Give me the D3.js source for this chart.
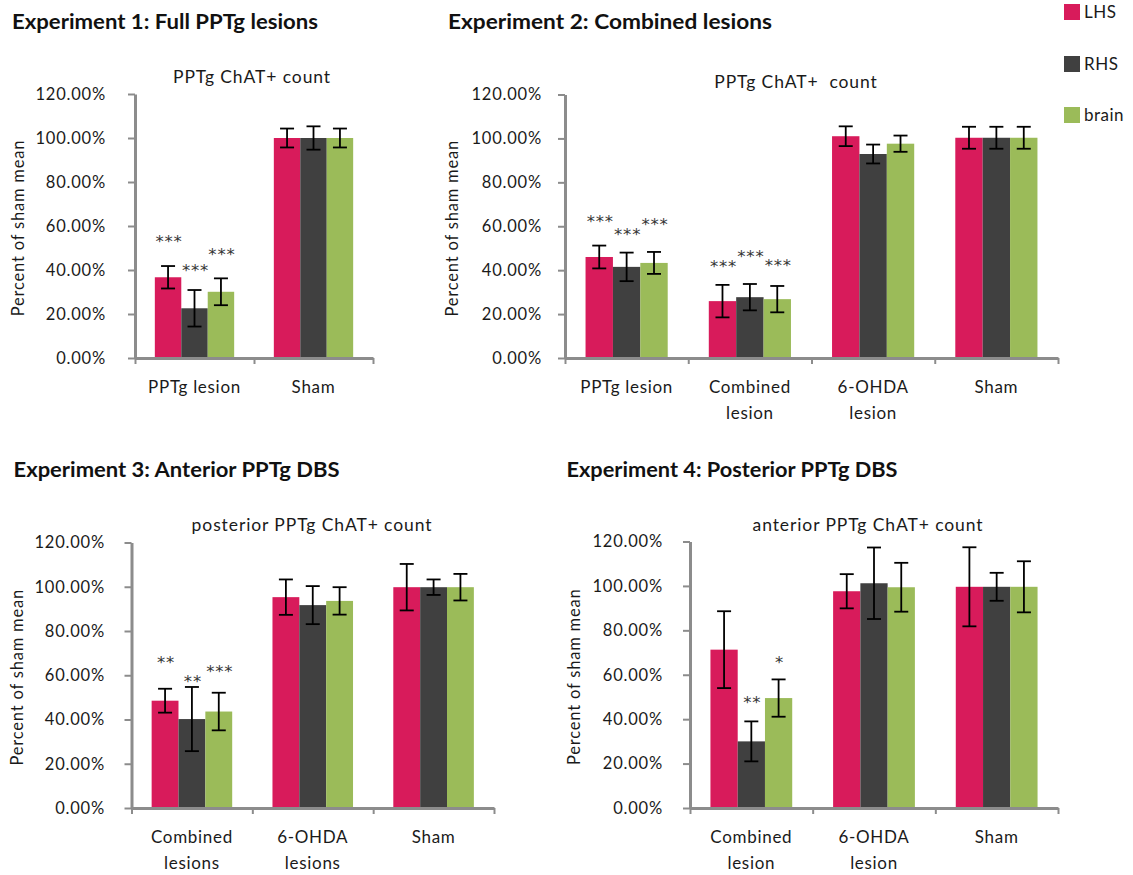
<!DOCTYPE html>
<html>
<head>
<meta charset="utf-8">
<script src="https://cdn.jsdelivr.net/npm/d3@7"></script>
<style>
  html, body { margin: 0; padding: 0; background: #fff; }
  svg { display: block; }
  text { font-family: Lato, "Open Sans", sans-serif; fill: #1a1a1a; }
</style>
</head>
<body>
<svg id="chart" width="1133" height="875"></svg>
<script>
// ---------------- DATA ----------------
const seriesNames = ["LHS", "RHS", "brain"];
const yTicks = [0, 20, 40, 60, 80, 100, 120];
const yTickLabels = ["0.00%", "20.00%", "40.00%", "60.00%", "80.00%", "100.00%", "120.00%"];
const yAxisTitle = "Percent of sham mean";

// Experiment 1
const exp1Title = "Experiment 1: Full PPTg lesions";
const exp1ChartTitle = "PPTg ChAT+ count";
const exp1Categories = ["PPTg lesion", "Sham"];
const exp1LHS = [36.7, 100];
const exp1RHS = [22.6, 100];
const exp1Brain = [30.1, 100];
const exp1LHSErr = [5.1, 4.3];
const exp1RHSErr = [8.3, 5.3];
const exp1BrainErr = [6.1, 4.3];
const exp1LHSStars = ["***", ""];
const exp1RHSStars = ["***", ""];
const exp1BrainStars = ["***", ""];
const exp1LHSStarAt = [55.0, null];
const exp1RHSStarAt = [41.8, null];
const exp1BrainStarAt = [49.1, null];

// Experiment 2
const exp2Title = "Experiment 2: Combined lesions";
const exp2ChartTitle = "PPTg ChAT+  count";
const exp2Categories = ["PPTg lesion", "Combined\nlesion", "6-OHDA\nlesion", "Sham"];
const exp2LHS = [46.0, 25.9, 101.0, 100.3];
const exp2RHS = [41.5, 27.7, 92.9, 100.3];
const exp2Brain = [43.3, 26.8, 97.6, 100.3];
const exp2LHSErr = [5.2, 7.4, 4.5, 5.0];
const exp2RHSErr = [6.5, 6.0, 4.3, 5.0];
const exp2BrainErr = [5.0, 6.0, 3.7, 5.0];
const exp2LHSStars = ["***", "***", "", ""];
const exp2RHSStars = ["***", "***", "", ""];
const exp2BrainStars = ["***", "***", "", ""];
const exp2LHSStarAt = [64.1, 43.6, null, null];
const exp2RHSStarAt = [58.3, 48.3, null, null];
const exp2BrainStarAt = [62.7, 44.2, null, null];

// Experiment 3
const exp3Title = "Experiment 3: Anterior PPTg DBS";
const exp3ChartTitle = "posterior PPTg ChAT+ count";
const exp3Categories = ["Combined\nlesions", "6-OHDA\nlesions", "Sham"];
const exp3LHS = [48.5, 95.3, 99.8];
const exp3RHS = [40.2, 91.7, 99.8];
const exp3Brain = [43.6, 93.6, 99.8];
const exp3LHSErr = [5.4, 8.0, 10.5];
const exp3RHSErr = [14.5, 8.6, 3.5];
const exp3BrainErr = [8.5, 6.2, 6.0];
const exp3LHSStars = ["**", "", ""];
const exp3RHSStars = ["**", "", ""];
const exp3BrainStars = ["***", "", ""];
const exp3LHSStarAt = [67.7, null, null];
const exp3RHSStarAt = [59.4, null, null];
const exp3BrainStarAt = [63.7, null, null];

// Experiment 4
const exp4Title = "Experiment 4: Posterior PPTg DBS";
const exp4ChartTitle = "anterior PPTg ChAT+ count";
const exp4Categories = ["Combined\nlesion", "6-OHDA\nlesion", "Sham"];
const exp4LHS = [71.3, 97.6, 99.6];
const exp4RHS = [30.0, 101.2, 99.6];
const exp4Brain = [49.5, 99.4, 99.6];
const exp4LHSErr = [17.3, 7.7, 17.8];
const exp4RHSErr = [9.0, 16.1, 6.3];
const exp4BrainErr = [8.4, 11.0, 11.5];
const exp4LHSStars = ["", "", ""];
const exp4RHSStars = ["**", "", ""];
const exp4BrainStars = ["*", "", ""];
const exp4LHSStarAt = [null, null, null];
const exp4RHSStarAt = [49.5, null, null];
const exp4BrainStarAt = [67.5, null, null];

// ---------------- STYLE / LAYOUT ----------------
const seriesColors = ["#D81B5B", "#404040", "#9BBB59"];
const axisColor = "#8C8C8C";

const svg = d3.select("#chart");

function buildRows(categories, vals, errs, stars, starAt) {
  return categories.map((c, i) => ({
    category: c,
    items: seriesNames.map((s, j) => ({
      series: s, value: vals[j][i], err: errs[j][i],
      star: stars[j][i], starAt: starAt[j][i]
    }))
  }));
}

function drawPanel(p) {
  const g = svg.append("g");
  const x = d3.scaleBand().domain(p.rows.map(r => r.category)).range([p.left, p.right]).padding(0);
  const xs = d3.scaleBand().domain(seriesNames).range([0, x.bandwidth()]).paddingInner(0).paddingOuter(0.75);
  const y = d3.scaleLinear().domain([0, 120]).range([p.bottom, p.top]);

  // Titles
  g.append("text").attr("x", p.titleX).attr("y", p.titleY)
    .style("font-weight", "bold").style("font-size", "20px").style("fill", "#111")
    .attr("textLength", p.titleLen).attr("lengthAdjust", "spacingAndGlyphs")
    .text(p.title);
  g.append("text").attr("x", p.chartTitleX).attr("y", p.chartTitleY)
    .attr("text-anchor", "middle").style("font-size", "17.5px")
    .style("letter-spacing", "0.9px").style("white-space", "pre")
    .text(p.chartTitle);

  // Bars
  const grp = g.selectAll(".grp").data(p.rows).join("g")
    .attr("transform", d => `translate(${x(d.category)},0)`);
  grp.selectAll("rect").data(d => d.items).join("rect")
    .attr("x", d => xs(d.series))
    .attr("width", xs.bandwidth())
    .attr("y", d => y(d.value))
    .attr("height", d => y(0) - y(d.value))
    .attr("fill", (d, i) => seriesColors[i]);

  // Error bars
  const eb = grp.selectAll(".eb").data(d => d.items).join("g").attr("class", "eb")
    .attr("transform", d => `translate(${xs(d.series) + xs.bandwidth() / 2},0)`);
  eb.append("line").attr("x1", 0).attr("x2", 0)
    .attr("y1", d => y(d.value + d.err)).attr("y2", d => y(d.value - d.err))
    .attr("stroke", "#000").attr("stroke-width", 1.8);
  eb.append("line").attr("x1", -7).attr("x2", 7)
    .attr("y1", d => y(d.value + d.err)).attr("y2", d => y(d.value + d.err))
    .attr("stroke", "#000").attr("stroke-width", 1.8);
  eb.append("line").attr("x1", -7).attr("x2", 7)
    .attr("y1", d => y(d.value - d.err)).attr("y2", d => y(d.value - d.err))
    .attr("stroke", "#000").attr("stroke-width", 1.8);

  // Significance stars
  grp.selectAll(".star").data(d => d.items.filter(it => it.star)).join("text")
    .attr("class", "star")
    .attr("x", d => xs(d.series) + xs.bandwidth() / 2 + 1)
    .attr("y", d => y(d.starAt) + 10)
    .attr("text-anchor", "middle")
    .style("font-family", "'DejaVu Sans', sans-serif")
    .style("font-size", "16.5px").style("letter-spacing", "0.8px").style("fill", "#333")
    .text(d => d.star);

  // Y axis
  const yAxis = d3.axisLeft(y).tickValues(yTicks)
    .tickFormat((d, i) => yTickLabels[i])
    .tickSizeInner(7).tickSizeOuter(0)
    .tickPadding(p.left - 7 - p.labelRight);
  const ya = g.append("g").attr("transform", `translate(${p.left},0)`).call(yAxis);
  ya.select(".domain").attr("stroke", axisColor).attr("stroke-width", 3);
  ya.selectAll(".tick line").attr("stroke", axisColor).attr("stroke-width", 2);
  ya.selectAll(".tick text").style("font-size", "16.5px").style("letter-spacing", "0.8px")
    .style("fill", "#1a1a1a").style("font-family", "Lato, sans-serif");

  // X axis with ticks at category boundaries
  const bx = d3.scaleLinear().domain([0, p.rows.length]).range([p.left, p.right]);
  const xAxis = d3.axisBottom(bx).tickValues(d3.range(p.rows.length + 1))
    .tickFormat("").tickSizeInner(6).tickSizeOuter(0);
  const xa = g.append("g").attr("transform", `translate(0,${p.bottom})`).call(xAxis);
  xa.select(".domain").attr("stroke", axisColor).attr("stroke-width", 3);
  xa.selectAll(".tick line").attr("stroke", axisColor).attr("stroke-width", 2);

  // Category labels
  const lab = g.selectAll(".clab").data(p.rows).join("text")
    .attr("text-anchor", "middle")
    .style("font-size", "17px").style("letter-spacing", "0.7px")
    .attr("transform", d => `translate(${x(d.category) + x.bandwidth() / 2},${p.bottom + 35})`);
  lab.selectAll("tspan").data(d => d.category.split("\n")).join("tspan")
    .attr("x", 0).attr("dy", (d, i) => i === 0 ? 0 : 26).text(d => d);

  // Y axis title
  g.append("text")
    .attr("transform", `translate(${p.yTitleX},${(p.top + p.bottom) / 2 + 2}) rotate(-90)`)
    .attr("text-anchor", "middle").style("font-size", "16.5px").style("letter-spacing", "0.8px")
    .text(yAxisTitle);
}

drawPanel({
  title: exp1Title, chartTitle: exp1ChartTitle,
  rows: buildRows(exp1Categories, [exp1LHS, exp1RHS, exp1Brain], [exp1LHSErr, exp1RHSErr, exp1BrainErr],
    [exp1LHSStars, exp1RHSStars, exp1BrainStars], [exp1LHSStarAt, exp1RHSStarAt, exp1BrainStarAt]),
  left: 135, right: 373, top: 94, bottom: 358, labelRight: 106,
  titleX: 12, titleY: 29, titleLen: 306, chartTitleX: 252, chartTitleY: 83, yTitleX: 24
});
drawPanel({
  title: exp2Title, chartTitle: exp2ChartTitle,
  rows: buildRows(exp2Categories, [exp2LHS, exp2RHS, exp2Brain], [exp2LHSErr, exp2RHSErr, exp2BrainErr],
    [exp2LHSStars, exp2RHSStars, exp2BrainStars], [exp2LHSStarAt, exp2RHSStarAt, exp2BrainStarAt]),
  left: 565, right: 1058, top: 94.5, bottom: 358, labelRight: 542,
  titleX: 448, titleY: 29, titleLen: 324, chartTitleX: 796, chartTitleY: 88, yTitleX: 458
});
drawPanel({
  title: exp3Title, chartTitle: exp3ChartTitle,
  rows: buildRows(exp3Categories, [exp3LHS, exp3RHS, exp3Brain], [exp3LHSErr, exp3RHSErr, exp3BrainErr],
    [exp3LHSStars, exp3RHSStars, exp3BrainStars], [exp3LHSStarAt, exp3RHSStarAt, exp3BrainStarAt]),
  left: 131.5, right: 494, top: 542.5, bottom: 808, labelRight: 105,
  titleX: 13.5, titleY: 477, titleLen: 326, chartTitleX: 312, chartTitleY: 531, yTitleX: 23
});
drawPanel({
  title: exp4Title, chartTitle: exp4ChartTitle,
  rows: buildRows(exp4Categories, [exp4LHS, exp4RHS, exp4Brain], [exp4LHSErr, exp4RHSErr, exp4BrainErr],
    [exp4LHSStars, exp4RHSStars, exp4BrainStars], [exp4LHSStarAt, exp4RHSStarAt, exp4BrainStarAt]),
  left: 690, right: 1058, top: 541.5, bottom: 808, labelRight: 663,
  titleX: 566.5, titleY: 477, titleLen: 331, chartTitleX: 868, chartTitleY: 531, yTitleX: 580
});

// Legend
const legend = svg.append("g").attr("transform", "translate(1064,4)");
const li = legend.selectAll("g").data(seriesNames).join("g")
  .attr("transform", (d, i) => `translate(0,${[0, 52, 103][i]})`);
li.append("rect").attr("width", 16).attr("height", 16).attr("fill", (d, i) => seriesColors[i]);
li.append("text").attr("x", 20).attr("y", 14).style("font-size", "17px").style("letter-spacing", "0.5px").text(d => d);
</script>
</body>
</html>
